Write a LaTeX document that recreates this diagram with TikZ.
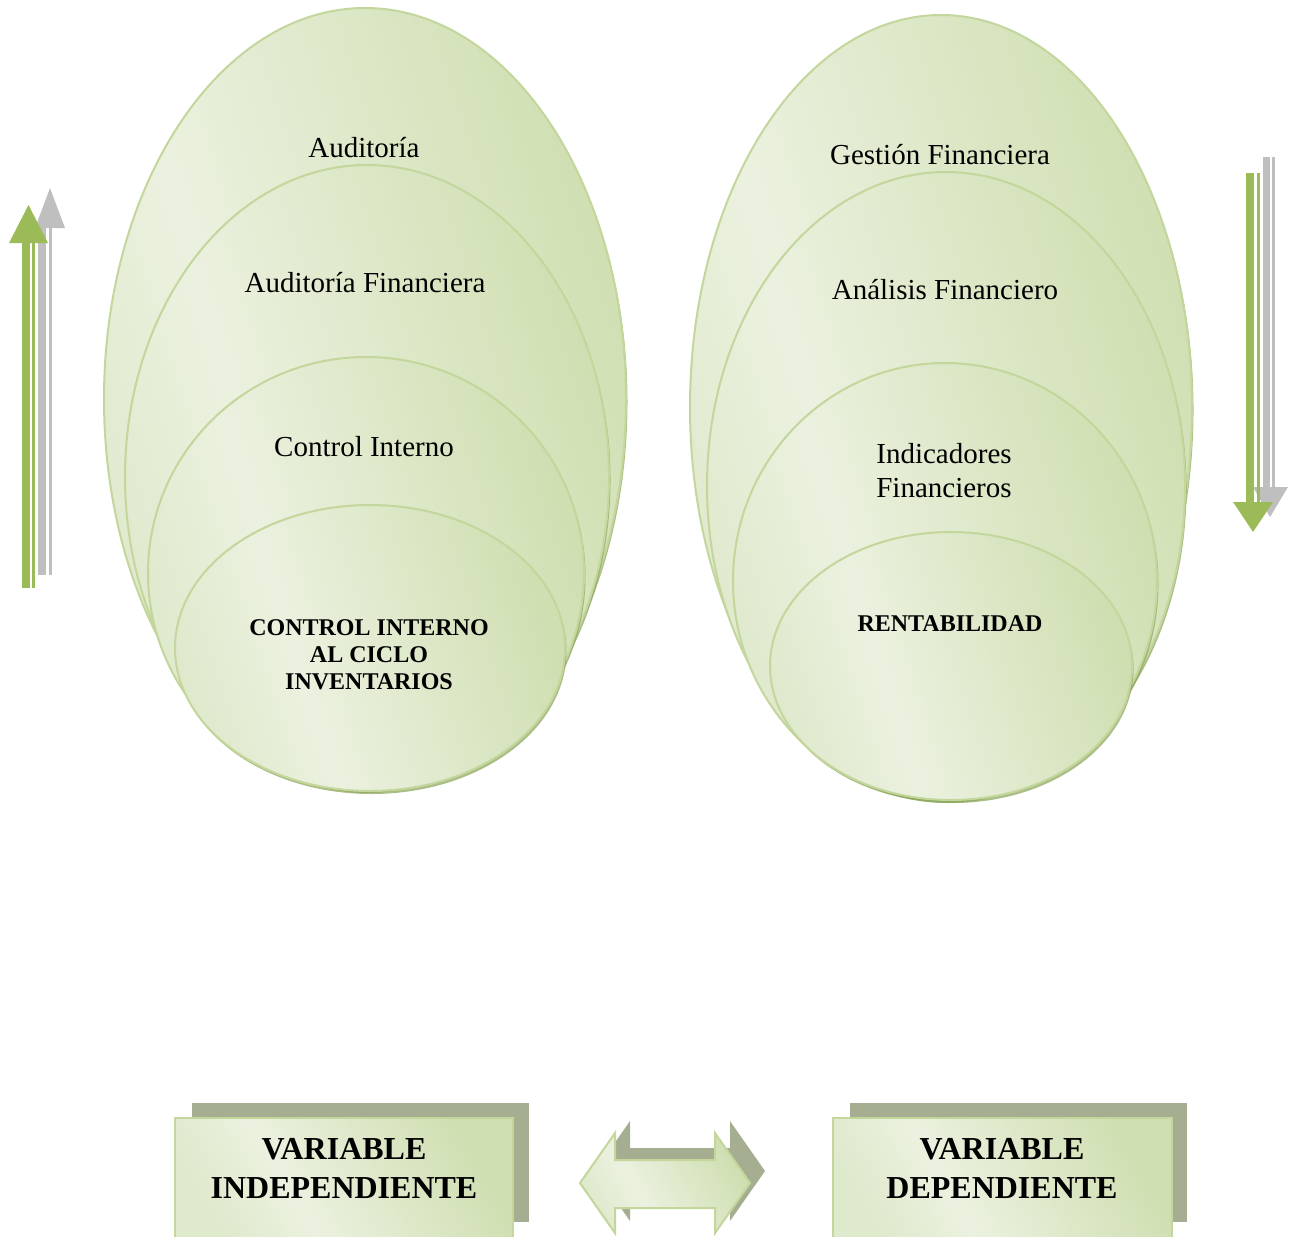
\documentclass[tikz,border=0pt]{standalone}
\usepackage{fontspec}
\setmainfont{Liberation Serif}
\definecolor{gLight}{HTML}{EBF1DF}
\definecolor{gEdge}{HTML}{DFE9CC}
\definecolor{gDark}{HTML}{D0DFB2}
\definecolor{gLine}{HTML}{C3D69B}
\definecolor{gShadow}{HTML}{8FA85F}
\definecolor{arrowGreen}{HTML}{9BBB59}
\definecolor{arrowGray}{HTML}{BFBFBF}
\definecolor{boxShadow}{HTML}{A6AE92}

% soft green fill: pale just left of centre, deeper green towards the right
\pgfdeclareverticalshading{softgreen}{100bp}{color(0bp)=(gEdge); color(24bp)=(gEdge);
  color(40bp)=(gLight); color(74bp)=(gDark); color(100bp)=(gDark)}

\tikzset{
  bubble/.style={draw=gLine, line width=1.5pt, shading=softgreen, shading angle=-72},
  bubbleshadow/.style={fill=gShadow, opacity=0.75},
  plainlabel/.style={font=\fontsize{21.75pt}{25.5pt}\selectfont, align=center, inner sep=0pt},
  boldlabel/.style={font=\fontsize{18pt}{20.25pt}\selectfont\bfseries, align=center, inner sep=0pt},
  varlabel/.style={font=\fontsize{24pt}{29.25pt}\selectfont\bfseries, align=center, inner sep=0pt},
  panel/.style={draw=gLine, line width=1.5pt, shading=softgreen, shading angle=-60},
  panelshadow/.style={fill=boxShadow},
  greenbar/.style={fill=arrowGreen},
  graybar/.style={fill=arrowGray},
}

% nested bubble: centre x, centre y, x radius, y radius
\newcommand\nestbubble[4]{%
  \fill[bubbleshadow] (#1+1.5,#2+3) ellipse [x radius=#3, y radius=#4];
  \shade[bubble] (#1,#2) ellipse [x radius=#3, y radius=#4];
}

\begin{document}
\begin{tikzpicture}[x=0.75pt, y=-0.75pt]
\useasboundingbox (0,0) rectangle (1294,1236);

% ---- left group: independent variable ----
\nestbubble{365}{399}{261}{391}
\nestbubble{367}{477}{242}{312}
\nestbubble{366}{573}{218}{216}
\nestbubble{370}{648}{195}{143}

\node[plainlabel] (aud)  at (364,148) {Auditoría};
\node[plainlabel] (audf) at (365,283) {Auditoría Financiera};
\node[plainlabel] (ci)   at (364,447) {Control Interno};
\node[boldlabel]  (cic)  at (369,655) {CONTROL INTERNO\\AL CICLO\\INVENTARIOS};

% ---- right group: dependent variable ----
\nestbubble{941}{407}{251}{392}
\nestbubble{946}{486}{239}{314}
\nestbubble{945}{581}{212}{218}
\nestbubble{951}{666}{181}{134}

\node[plainlabel] (gf)  at (940,155) {Gestión Financiera};
\node[plainlabel] (af)  at (945,290) {Análisis Financiero};
\node[plainlabel] (indf) at (944,471) {Indicadores\\Financieros};
\node[boldlabel]  (rent) at (950,624) {RENTABILIDAD};

% ---- upward arrow (left) ----
\fill[graybar] (38,575) rectangle (46,228);
\fill[graybar] (49,575) rectangle (52,228);
\fill[graybar] (35,228) -- (65,228) -- (50,188) -- cycle;
\fill[greenbar] (22,588) rectangle (30,243);
\fill[greenbar] (32,588) rectangle (35,243);
\fill[greenbar] (9,243) -- (48,243) -- (28.5,205) -- cycle;

% ---- downward arrow (right) ----
\fill[graybar] (1263,157) rectangle (1270,487);
\fill[graybar] (1272,157) rectangle (1275,487);
\fill[graybar] (1253,487) -- (1288,487) -- (1270,517) -- cycle;
\fill[greenbar] (1246,173) rectangle (1254,502);
\fill[greenbar] (1257,173) rectangle (1260,502);
\fill[greenbar] (1233,502) -- (1273,502) -- (1253,532) -- cycle;

% ---- variable panels ----
\fill[panelshadow] (192,1103) rectangle (529,1222);
\shade[panel] (175,1118) rectangle (513,1240);
\node[varlabel] (vi) at (344,1168) {VARIABLE\\INDEPENDIENTE};

\fill[panelshadow] (850,1103) rectangle (1187,1222);
\shade[panel] (833,1118) rectangle (1172,1240);
\node[varlabel] (vd) at (1002,1168) {VARIABLE\\DEPENDIENTE};

% ---- double-headed link arrow ----
\fill[panelshadow, shift={(15,-12)}]
  (580,1183) -- (615,1133) -- (615,1160) -- (715,1160) -- (715,1133) -- (750,1183)
  -- (715,1233) -- (715,1208) -- (615,1208) -- (615,1233) -- cycle;
\shade[panel]
  (580,1183) -- (615,1133) -- (615,1160) -- (715,1160) -- (715,1133) -- (750,1183)
  -- (715,1233) -- (715,1208) -- (615,1208) -- (615,1233) -- cycle;
\end{tikzpicture}
\end{document}
